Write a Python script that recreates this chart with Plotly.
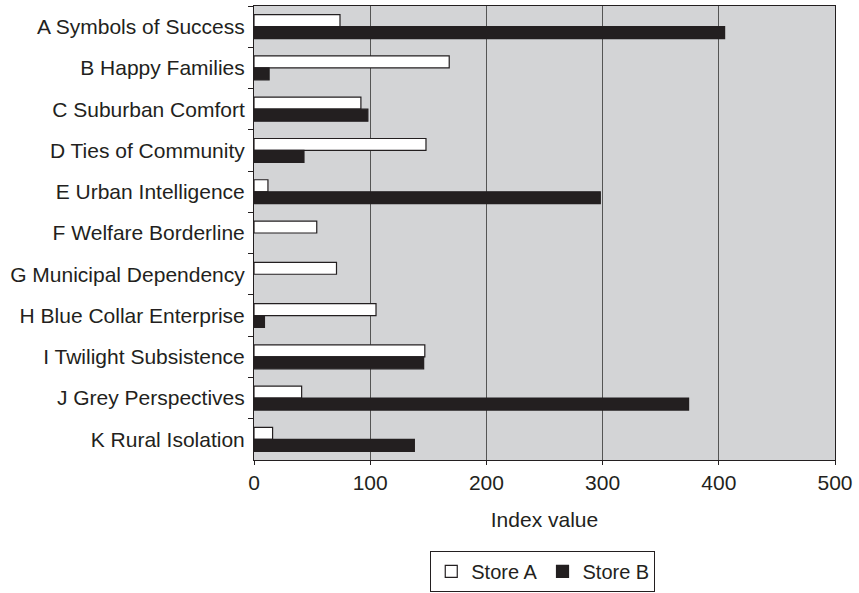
import plotly.graph_objects as go

# Geodemographic segment index values for two stores
segments = [
    "A Symbols of Success",
    "B Happy Families",
    "C Suburban Comfort",
    "D Ties of Community",
    "E Urban Intelligence",
    "F Welfare Borderline",
    "G Municipal Dependency",
    "H Blue Collar Enterprise",
    "I Twilight Subsistence",
    "J Grey Perspectives",
    "K Rural Isolation",
]
store_a = [74, 168, 92, 148, 12, 54, 71, 105, 147, 41, 16]
store_b = [405, 13, 98, 43, 298, 0, 0, 9, 146, 374, 138]
x_ticks = [0, 100, 200, 300, 400, 500]

FONT = "Liberation Sans, Arial, sans-serif"
INK = "#231f20"
SIZE = 21


def outline(values):
    # no outline on empty bars so nothing shows at the zero line
    return [1.2 if v else 0 for v in values]


fig = go.Figure()
fig.add_trace(go.Bar(
    name="Store A", y=segments, x=store_a, orientation="h",
    marker=dict(color="white", line=dict(color=INK, width=outline(store_a))),
))
fig.add_trace(go.Bar(
    name="Store B", y=segments, x=store_b, orientation="h",
    marker=dict(color=INK, line=dict(color=INK, width=outline(store_b))),
))

fig.update_layout(
    width=859, height=593,
    margin=dict(l=254, r=24, t=6, b=133, autoexpand=False),
    paper_bgcolor="white",
    plot_bgcolor="#d3d4d6",
    barmode="group",
    bargap=0.42,
    bargroupgap=0,
    font=dict(family=FONT, size=SIZE, color=INK),
    showlegend=True,
    legend=dict(
        orientation="h",
        x=0.497, xanchor="center",
        y=-0.2, yanchor="top",
        bordercolor=INK, borderwidth=1,
        font=dict(family=FONT, size=SIZE - 1, color=INK),
        itemwidth=30,
        traceorder="normal",
    ),
)

fig.update_xaxes(
    range=[0, 500],
    automargin=False,
    tickvals=x_ticks,
    ticktext=[str(v) for v in x_ticks],
    showgrid=True, gridcolor="#555555", gridwidth=1,
    zeroline=False,
    showline=True, linecolor=INK, linewidth=1, mirror=True,
    ticks="outside", ticklen=4, tickcolor=INK,
    ticklabelstandoff=0,
    title=dict(text="Index value", standoff=19,
               font=dict(family=FONT, size=SIZE, color=INK)),
    tickfont=dict(family=FONT, size=SIZE, color=INK),
)
fig.update_yaxes(
    autorange="reversed",
    automargin=False,
    showgrid=False,
    showline=True, linecolor=INK, linewidth=1, mirror=True,
    ticks="outside", ticklen=5, tickcolor=INK,
    tickson="boundaries",
    tickfont=dict(family=FONT, size=SIZE, color=INK),
    ticklabelstandoff=4,
)

fig.write_html("out.html")
